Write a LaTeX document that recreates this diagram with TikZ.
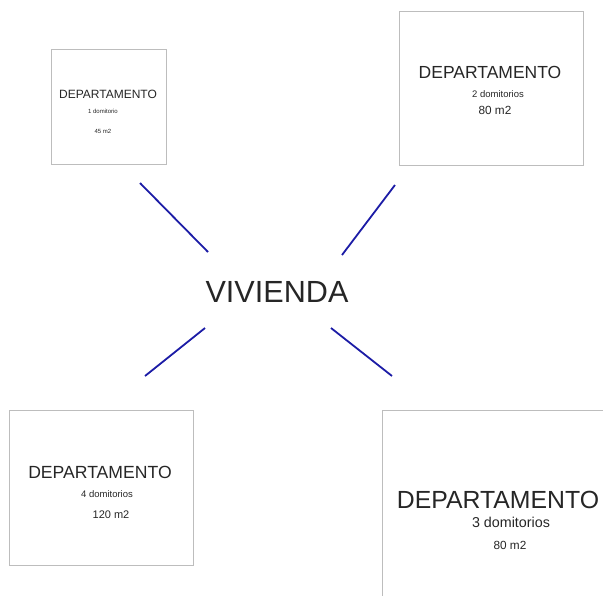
\documentclass[tikz,border=0pt]{standalone}
\usepackage{fontspec}
\usepackage{xcolor}
\setmainfont{Liberation Sans}
\usetikzlibrary{
    positioning,
    calc
}
\definecolor{GrisBorde}{HTML}{BDBDBD}
\definecolor{AzulLinea}{HTML}{1C1CA6}
\newcommand{\tam}[1]{\fontsize{#1}{#1}\selectfont}

\begin{document}
\begin{tikzpicture}[
        x=1pt, y=-1pt,
        depto/.style={
            draw=GrisBorde,
            line width=0.8pt,
            inner sep=0pt
        },
        texto/.style={
            inner sep=0pt,
            text=black!85
        },
        enlace/.style={
            draw=AzulLinea,
            line width=1.8pt
        }
    ]
    \clip (0,0) rectangle (603,595);

    % cajas
    \node[depto, minimum width=115pt, minimum height=115pt] (depUno) at (108.5,106.5) {};
    \node[depto, minimum width=184pt, minimum height=154pt] (depDos) at (491,88) {};
    \node[depto, minimum width=184pt, minimum height=155pt] (depCuatro) at (101,487.5) {};
    \node[depto, minimum width=240pt, minimum height=200pt] (depTres) at (502,510) {};

    % textos
    \node[texto] (tUno) at (108,94) {\tam{12}DEPARTAMENTO};
    \node[texto] (dUno) at (103,111) {\tam{6}1 domitorio};
    \node[texto] (mUno) at (103,131) {\tam{6}45 m2};

    \node[texto] (tDos) at (490,72) {\tam{17.5}DEPARTAMENTO};
    \node[texto] (dDos) at (498,94) {\tam{9.5}2 domitorios};
    \node[texto] (mDos) at (495,110) {\tam{11.8}80 m2};

    \node[texto] (tCuatro) at (100,472) {\tam{17.6}DEPARTAMENTO};
    \node[texto] (dCuatro) at (107,494) {\tam{9.5}4 domitorios};
    \node[texto] (mCuatro) at (111,515) {\tam{11}120 m2};

    \node[texto] (tTres) at (498,500) {\tam{24.8}DEPARTAMENTO};
    \node[texto] (dTres) at (511,522) {\tam{14.3}3 domitorios};
    \node[texto] (mTres) at (510,545) {\tam{11.8}80 m2};

    \node[texto] (viv) at (277,292) {\tam{30.6}VIVIENDA};

    % lineas
    \coordinate (a1) at (140,183);
    \coordinate (a2) at (208,252);
    \coordinate (b1) at (395,185);
    \coordinate (b2) at (342,255);
    \coordinate (c1) at (205,328);
    \coordinate (c2) at (145,376);
    \coordinate (e1) at (331,328);
    \coordinate (e2) at (392,376);
    \draw[enlace] (a1) -- (a2);
    \draw[enlace] (b1) -- (b2);
    \draw[enlace] (c1) -- (c2);
    \draw[enlace] (e1) -- (e2);
\end{tikzpicture}
\end{document}
